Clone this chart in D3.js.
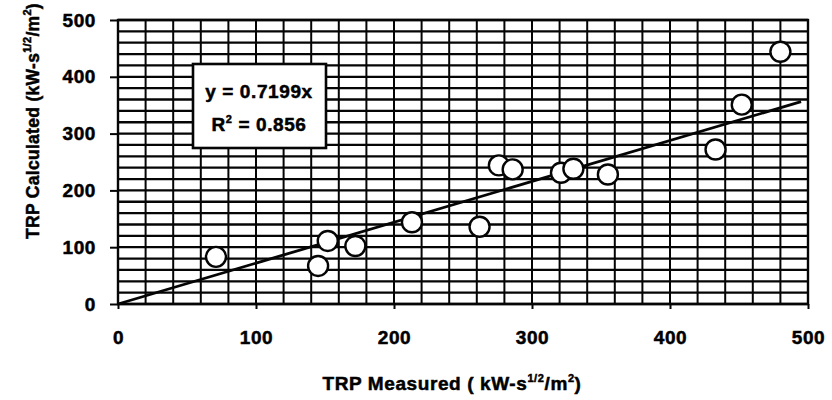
<!DOCTYPE html>
<html>
<head>
<meta charset="utf-8">
<script src="https://cdn.jsdelivr.net/npm/d3@7"></script>
<style>
  html, body { margin: 0; padding: 0; background: #fff; }
  svg { display: block; }
  text { font-family: "Liberation Sans", Arial, Helvetica, sans-serif; font-weight: bold; fill: #000; stroke: #000; stroke-width: 0.5; }
</style>
</head>
<body>
<svg id="chart" width="832" height="400"></svg>
<script>
// Data
const measured   = [71, 145, 152, 172, 213, 262, 276, 286, 321, 330, 355, 433, 452, 480];
const calculated = [83, 67, 111, 102, 144, 136, 244, 237, 231, 238, 228, 272, 351, 444];
const xTicks = [0, 100, 200, 300, 400, 500];
const yTicks = [0, 100, 200, 300, 400, 500];
const slope = 0.7199;
const fitRange = [0, 495];
const eqText = "y = 0.7199x";
const r2Text = "0.856";

const svg = d3.select("#chart");
const x = d3.scaleLinear().domain([0, 500]).range([118, 808]);
const y = d3.scaleLinear().domain([0, 500]).range([304, 20]);

const ink = "#050505";

// grid
const gridVals = d3.range(0, 501, 20);
svg.append("g").selectAll("line.h").data(gridVals).join("line")
  .attr("x1", x(0)).attr("x2", x(500))
  .attr("y1", d => y(d)).attr("y2", d => y(d))
  .attr("stroke", ink).attr("stroke-width", 2.3);
svg.append("g").selectAll("line.v").data(gridVals).join("line")
  .attr("y1", y(0)).attr("y2", y(500))
  .attr("x1", d => x(d)).attr("x2", d => x(d))
  .attr("stroke", ink).attr("stroke-width", 2);

// frame
svg.append("rect")
  .attr("x", x(0)).attr("y", y(500))
  .attr("width", x(500) - x(0)).attr("height", y(0) - y(500))
  .attr("fill", "none").attr("stroke", ink).attr("stroke-width", 2.4);

// axes
const yAxis = d3.axisLeft(y).tickValues(yTicks).tickSize(8).tickPadding(14).tickFormat(d3.format("d"));
const gy = svg.append("g").attr("transform", `translate(${x(0)},0)`).call(yAxis);
gy.select(".domain").remove();
gy.selectAll(".tick line").attr("stroke", ink).attr("stroke-width", 2);
gy.selectAll(".tick text").attr("font-size", 19).attr("letter-spacing", 0.6)
  .attr("font-family", "Liberation Sans, Arial, sans-serif").attr("font-weight", "bold")
  .attr("fill", "#000").attr("stroke", "#000").attr("stroke-width", 0.6);

const xAxis = d3.axisBottom(x).tickValues(xTicks).tickSize(5).tickPadding(22).tickFormat(d3.format("d"));
const gx = svg.append("g").attr("transform", `translate(0,${y(0)})`).call(xAxis);
gx.select(".domain").remove();
gx.selectAll(".tick line").attr("stroke", ink).attr("stroke-width", 2);
gx.selectAll(".tick text").attr("font-size", 19).attr("letter-spacing", 0.6)
  .attr("font-family", "Liberation Sans, Arial, sans-serif").attr("font-weight", "bold")
  .attr("fill", "#000").attr("stroke", "#000").attr("stroke-width", 0.6);

// trend line
svg.append("line")
  .attr("x1", x(fitRange[0])).attr("y1", y(slope * fitRange[0]))
  .attr("x2", x(fitRange[1])).attr("y2", y(slope * fitRange[1]))
  .attr("stroke", ink).attr("stroke-width", 2.8);

// points
const pts = measured.map((m, i) => ({ m, c: calculated[i] }));
svg.append("g").selectAll("circle").data(pts).join("circle")
  .attr("cx", d => x(d.m)).attr("cy", d => y(d.c)).attr("r", 10)
  .attr("fill", "#fff").attr("stroke", ink).attr("stroke-width", 2.4);

// equation box
const box = svg.append("g");
box.append("rect").attr("x", 193).attr("y", 64).attr("width", 133).attr("height", 84)
  .attr("fill", "#fff").attr("stroke", ink).attr("stroke-width", 2.6);
box.append("text").attr("x", 259).attr("y", 98).attr("text-anchor", "middle")
  .attr("font-size", 19).attr("letter-spacing", 0.6).text(eqText);
const t2 = box.append("text").attr("x", 259).attr("y", 131).attr("text-anchor", "middle")
  .attr("font-size", 19).attr("letter-spacing", 0.6);
t2.append("tspan").text("R");
t2.append("tspan").attr("font-size", 11).attr("dy", -8).text("2");
t2.append("tspan").attr("dy", 8).text(" = " + r2Text);

// axis titles
function unitTitle(sel, main, pre) {
  sel.append("tspan").text(main + pre + "kW-s");
  sel.append("tspan").attr("font-size", 11).attr("dy", -8).text("1/2");
  sel.append("tspan").attr("dy", 8).text("/m");
  sel.append("tspan").attr("font-size", 11).attr("dy", -8).text("2");
  sel.append("tspan").attr("dy", 8).text(")");
}
const xt = svg.append("text").attr("x", 452).attr("y", 390).attr("text-anchor", "middle")
  .attr("font-size", 19).attr("letter-spacing", 0.6);
unitTitle(xt, "TRP Measured", " ( ");

const yt = svg.append("text").attr("transform", "translate(39,121) rotate(-90)")
  .attr("text-anchor", "middle").attr("font-size", 17.5).attr("letter-spacing", 0.3);
unitTitle(yt, "TRP Calculated", " (");
</script>
</body>
</html>
